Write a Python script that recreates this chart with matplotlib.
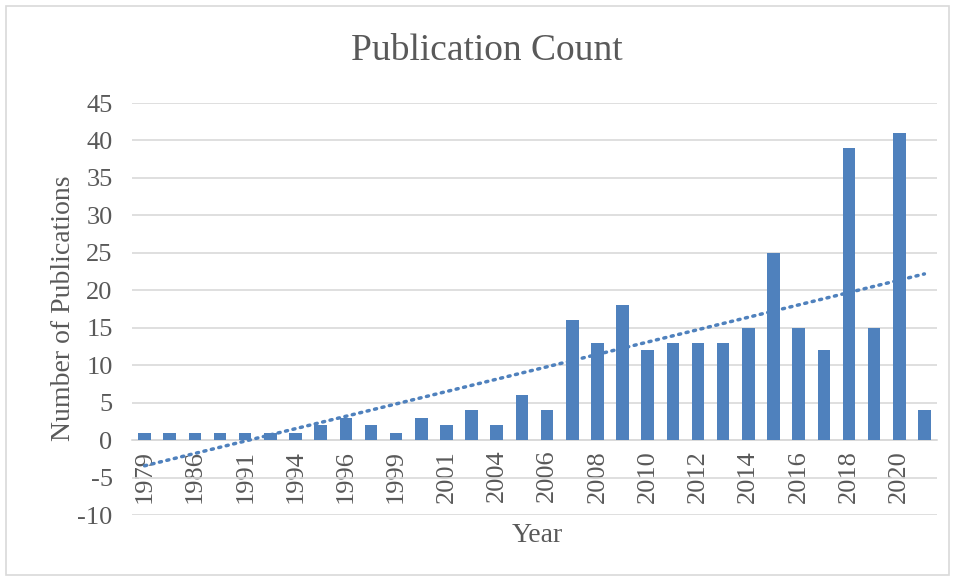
import matplotlib
matplotlib.use("Agg")
import matplotlib.pyplot as plt
import numpy as np
from matplotlib.patches import Rectangle

years = ["1979", "1984", "1986", "1988", "1991", "1993", "1994", "1995", "1996", "1998",
         "1999", "2000", "2001", "2003", "2004", "2005", "2006", "2007", "2008", "2009",
         "2010", "2011", "2012", "2013", "2014", "2015", "2016", "2017", "2018", "2019",
         "2020", "2021"]
counts = [1, 1, 1, 1, 1, 1, 1, 2, 3, 2,
          1, 3, 2, 4, 2, 6, 4, 16, 13, 18,
          12, 13, 13, 13, 15, 25, 15, 12, 39, 15,
          41, 4]

plt.rcParams['font.family'] = ['Liberation Serif', 'DejaVu Serif']
plt.rcParams['axes.unicode_minus'] = False
text_color = '#595959'
bar_color = '#4F81BD'

fig = plt.figure(figsize=(9.54, 5.78), dpi=100)
ax = fig.add_axes([132/954, 1-515/578, (937-132)/954, (515-103)/578])

x = np.arange(len(years))
ax.bar(x, counts, width=0.5, color=bar_color, zorder=3)

# linear trendline (Excel style, x = 1..n)
xs = x + 1
coef = np.polyfit(xs, counts, 1)
ax.plot(x, np.polyval(coef, xs), linestyle=(0, (0.6, 1.6)), dash_capstyle='round',
        color=bar_color, linewidth=2.5, zorder=4)

ax.set_xlim(-0.5, len(years) - 0.5)
ax.set_ylim(-10, 45)
ax.set_yticks(np.arange(-10, 46, 5))
ax.yaxis.grid(True, color='#D9D9D9', linewidth=1.2, zorder=0)
ax.set_axisbelow(True)

for s in ['top', 'right', 'left']:
    ax.spines[s].set_visible(False)
ax.spines['bottom'].set_position(('data', 0))
ax.spines['bottom'].set_color('#D9D9D9')
ax.spines['bottom'].set_linewidth(1.2)
ax.spines['bottom'].set_zorder(1)

ax.set_xticks(x[::2])
ax.set_xticklabels(years[::2], rotation=90, va='top', ha='center')
ax.tick_params(axis='x', length=0, pad=7, labelsize=19, labelcolor=text_color)
ax.tick_params(axis='y', length=0, pad=14, labelsize=19, labelcolor=text_color)

fig.text(487/954, 1-51/578, "Publication Count", ha='center', va='center',
         fontsize=27, color=text_color)
fig.text(537/954, 1-535/578, "Year", ha='center', va='center', fontsize=20, color=text_color)
fig.text(64/954, 1-308/578, "Number of Publications", ha='center', va='center',
         rotation=90, fontsize=20, color=text_color)

fig.patches.append(Rectangle((6/954, 3/578), 943/954, 569/578, transform=fig.transFigure,
                             fill=False, edgecolor='#D9D9D9', linewidth=1.2))

fig.savefig("out.png", dpi=100, facecolor='white')
